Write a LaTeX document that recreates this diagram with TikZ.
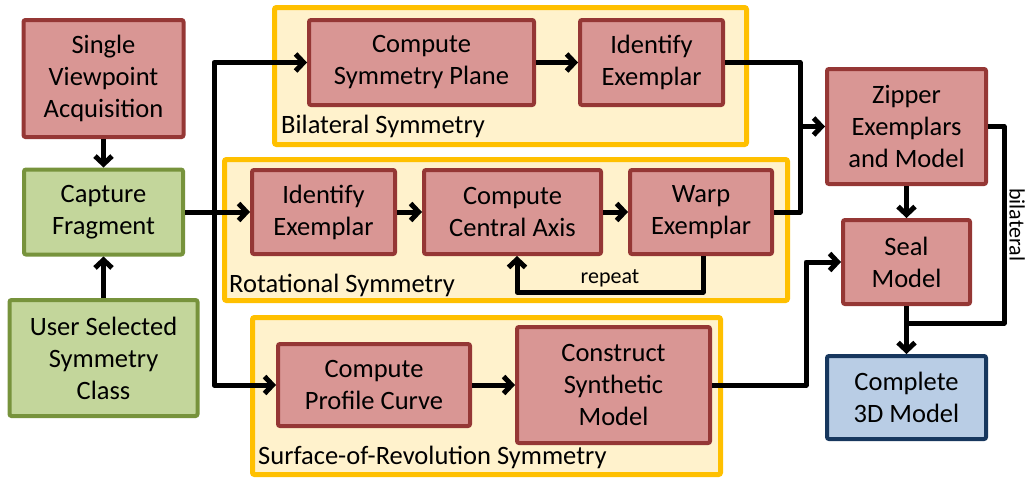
\documentclass[tikz,border=0pt]{standalone}
\usepackage{fontspec}
\setmainfont{Carlito}
\usetikzlibrary{arrows.meta}
\definecolor{redfill}{HTML}{D99694}
\definecolor{redline}{HTML}{953735}
\definecolor{greenfill}{HTML}{C3D69B}
\definecolor{greenline}{HTML}{77933C}
\definecolor{bluefill}{HTML}{B9CDE5}
\definecolor{blueline}{HTML}{17375E}
\definecolor{grpfill}{HTML}{FFF2CC}
\definecolor{grpline}{HTML}{FFC000}
\begin{document}
\begin{tikzpicture}[x=1pt,y=-1pt,
  box/.style={rectangle,rounded corners=2pt,line width=4pt,align=center,inner sep=0pt,
    font=\fontsize{26.5}{32}\selectfont},
  redbox/.style={box,draw=redline,fill=redfill},
  greenbox/.style={box,draw=greenline,fill=greenfill},
  bluebox/.style={box,draw=blueline,fill=bluefill},
  group/.style={draw=grpline,fill=grpfill,line width=5pt,rounded corners=2pt},
  grplabel/.style={anchor=west,inner sep=0pt,font=\fontsize{26.5}{32}\selectfont},
  small/.style={inner sep=2pt,font=\fontsize{22}{26}\selectfont},
  link/.style={line width=5pt,line join=round},
  arr/.style={link,-{Straight Barb[length=8pt,width=17pt]}}]
\useasboundingbox (0,0) rectangle (1028,479);
\draw[group] (274.5,7.5) rectangle (746.5,144.5);
\draw[group] (224.5,159.5) rectangle (787.5,300.5);
\draw[group] (252.5,317.5) rectangle (720.5,474.5);
\node[grplabel] (bilbl) at (281,126) {Bilateral Symmetry};
\node[grplabel] (rotlbl) at (229,285) {Rotational Symmetry};
\node[grplabel] (sorlbl) at (258,457) {Surface-of-Revolution Symmetry};
\node[redbox,minimum width=160pt,minimum height=117pt] (acq) at (103.5,78.5) {Single\\Viewpoint\\Acquisition};
\node[greenbox,minimum width=159pt,minimum height=85pt] (cap) at (103.5,212) {Capture\\Fragment};
\node[greenbox,minimum width=188pt,minimum height=116pt] (usr) at (103.5,358) {User Selected\\Symmetry\\Class};
\node[redbox,minimum width=225pt,minimum height=85pt] (plane) at (421.5,62.5) {Compute\\Symmetry Plane};
\node[redbox,minimum width=143pt,minimum height=85pt] (idb) at (651.5,62.5) {Identify\\Exemplar};
\node[redbox,minimum width=143pt,minimum height=84pt] (idr) at (323.5,212) {Identify\\Exemplar};
\node[redbox,minimum width=177pt,minimum height=84pt] (axis) at (512.5,212) {Compute\\Central Axis};
\node[redbox,minimum width=142pt,minimum height=84pt] (warp) at (701,212) {Warp\\Exemplar};
\node[redbox,minimum width=192pt,minimum height=82pt] (profile) at (374,385) {Compute\\Profile Curve};
\node[redbox,minimum width=193pt,minimum height=116pt] (synth) at (613.5,385) {Construct\\Synthetic\\Model};
\node[redbox,minimum width=159pt,minimum height=115pt] (zip) at (906.5,126.5) {Zipper\\Exemplars\\and Model};
\node[redbox,minimum width=127pt,minimum height=84pt] (seal) at (906.5,262) {Seal\\Model};
\node[bluebox,minimum width=159pt,minimum height=83pt] (done) at (906.5,397.5) {Complete\\3D Model};
\coordinate (split) at (214,212);
\coordinate (join) at (800,126.5);
\coordinate (sealin) at (806,262);
\coordinate (merge) at (906.5,323);
\draw[arr] (acq) -- (cap);
\draw[arr] (usr) -- (cap);
\draw[arr] (cap) -- (idr);
\draw[arr] (split) |- (plane);
\draw[arr] (split) |- (profile);
\draw[arr] (plane) -- (idb);
\draw[arr] (idr) -- (axis);
\draw[arr] (axis) -- (warp);
\draw[arr] (profile) -- (synth);
\draw[link] (idb) -| (join);
\draw[link] (warp) -| (join);
\draw[arr] (join) -- (zip);
\draw[arr] ([xshift=2pt]warp.south) -- ++(0,36) -| ([xshift=4.5pt]axis.south)
  node[small,pos=0.25,above] (rep) {repeat};
\draw[arr] (synth) -| (sealin) -- (seal);
\draw[arr] (zip) -- (seal);
\draw[arr] (seal) -- (done);
\draw[link] (zip.east) -- ++(16,0) |- (merge)
  node[small,pos=0.25,rotate=-90,above=1pt] (bil) {bilateral};
\end{tikzpicture}
\end{document}
